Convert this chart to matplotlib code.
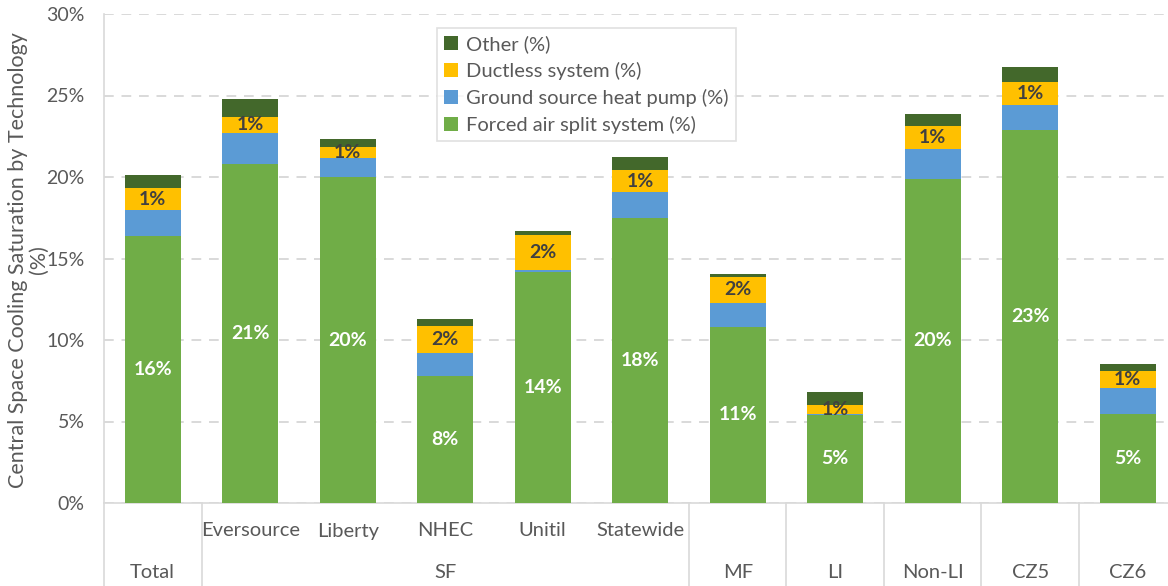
import matplotlib
matplotlib.use("Agg")
import matplotlib.pyplot as plt
import numpy as np
from matplotlib.lines import Line2D
from matplotlib.patches import Patch

plt.rcParams['font.family'] = ['Lato', 'DejaVu Sans']

categories = ["Total", "Eversource", "Liberty", "NHEC", "Unitil", "Statewide",
              "MF", "LI", "Non-LI", "CZ5", "CZ6"]
groups = ["Total", "SF", "SF", "SF", "SF", "SF", "MF", "LI", "Non-LI", "CZ5", "CZ6"]

forced_air = [16.4, 20.8, 20.0, 7.8, 14.15, 17.5, 10.8, 5.4, 19.9, 22.9, 5.45]
ground_src = [1.6, 1.9, 1.15, 1.4, 0.15, 1.6, 1.5, 0.05, 1.8, 1.5, 1.6]
ductless = [1.3, 1.0, 0.7, 1.65, 2.15, 1.3, 1.55, 0.55, 1.45, 1.4, 1.05]
other = [0.8, 1.1, 0.5, 0.45, 0.25, 0.8, 0.2, 0.8, 0.7, 0.95, 0.45]

series_names = ["Forced air split system (%)", "Ground source heat pump (%)",
                "Ductless system (%)", "Other (%)"]
colors = ["#70AD47", "#5B9BD5", "#FFC000", "#43682B"]

W, H = 1168, 586
fig = plt.figure(figsize=(W / 100, H / 100), dpi=100)
ax = fig.add_axes([104 / W, 1 - 503 / H, 1 - 104 / W, (503 - 14) / H])

x = np.arange(len(categories))
bw = 0.575
bottom = np.zeros(len(categories))
for vals, col, name in zip([forced_air, ground_src, ductless, other], colors, series_names):
    ax.bar(x, vals, bw, bottom=bottom, color=col, label=name, zorder=3)
    bottom = bottom + np.array(vals)

# data labels
for i, v in enumerate(forced_air):
    ax.text(x[i], v / 2, f"{int(np.floor(v + 0.5))}%", ha='center', va='center',
            color='white', fontsize=14, fontweight='bold', zorder=4)
base_d = np.array(forced_air) + np.array(ground_src)
for i, v in enumerate(ductless):
    lbl = f"{max(1, int(np.floor(v + 0.5)))}%"
    ax.text(x[i], base_d[i] + v / 2, lbl, ha='center', va='center',
            color='#404040', fontsize=14, fontweight='bold', zorder=4)

ax.set_xlim(-0.5, -0.5 + (W - 104) / 97.5)
ax.set_ylim(0, 30)
ax.set_yticks(np.arange(0, 31, 5))
ax.set_yticklabels([f"{t}%" for t in range(0, 31, 5)])
ax.tick_params(axis='y', length=0, pad=14, labelsize=14, labelcolor='#595959')
ax.set_xticks([])
ax.yaxis.grid(True, color='#D9D9D9', linestyle=(0, (5, 4)), linewidth=1.4, zorder=0)
ax.set_axisbelow(True)
for s in ['top', 'right', 'left']:
    ax.spines[s].set_visible(False)
ax.spines['bottom'].set_color('#D9D9D9')
ax.spines['bottom'].set_linewidth(1.2)

# category labels (two levels)
ah = 503 - 14
row1 = -(531 - 503) / ah
row2 = -(572 - 503) / ah
trans = ax.get_xaxis_transform()
for i, c in enumerate(categories):
    if groups[i] == "SF":
        ax.text(x[i], row1, c, transform=trans, ha='center', va='center',
                fontsize=14.5, color='#595959', clip_on=False)
uniq = []
for i, g in enumerate(groups):
    if not uniq or uniq[-1][0] != g:
        uniq.append([g, i, i])
    else:
        uniq[-1][2] = i
for g, s, e in uniq:
    ax.text((s + e) / 2, row2, g, transform=trans, ha='center', va='center',
            fontsize=14.5, color='#595959', clip_on=False)

# separators
bottom_ax = -(H - 503) / ah
seps = [-0.5] + [e + 0.5 for g, s, e in uniq]
for sx in seps:
    ax.add_line(Line2D([sx, sx], [bottom_ax, 0 if sx != -0.5 else 1.0], transform=trans,
                       color='#D9D9D9', linewidth=1.2, clip_on=False, zorder=1))

# y label
fig.text(28 / W, 1 - 260 / H, "Central Space Cooling Saturation by Technology\n(%)",
         rotation=90, ha='center', va='center', multialignment='center',
         fontsize=15.5, color='#595959', linespacing=1.05)

# legend
handles = [Patch(facecolor=colors[k]) for k in [3, 2, 1, 0]]
labels = [series_names[k] for k in [3, 2, 1, 0]]
leg = fig.legend(handles, labels, loc='upper left',
                 bbox_to_anchor=(437 / W, 1 - 28 / H), frameon=True, fancybox=False,
                 fontsize=14.5, handlelength=0.7, handleheight=0.7, handletextpad=0.4,
                 labelspacing=0.45, borderpad=0.35, borderaxespad=0)
leg.get_frame().set_edgecolor('#D9D9D9')
leg.get_frame().set_linewidth(1.2)
for t in leg.get_texts():
    t.set_color('#595959')

fig.savefig("out.png", dpi=100)
